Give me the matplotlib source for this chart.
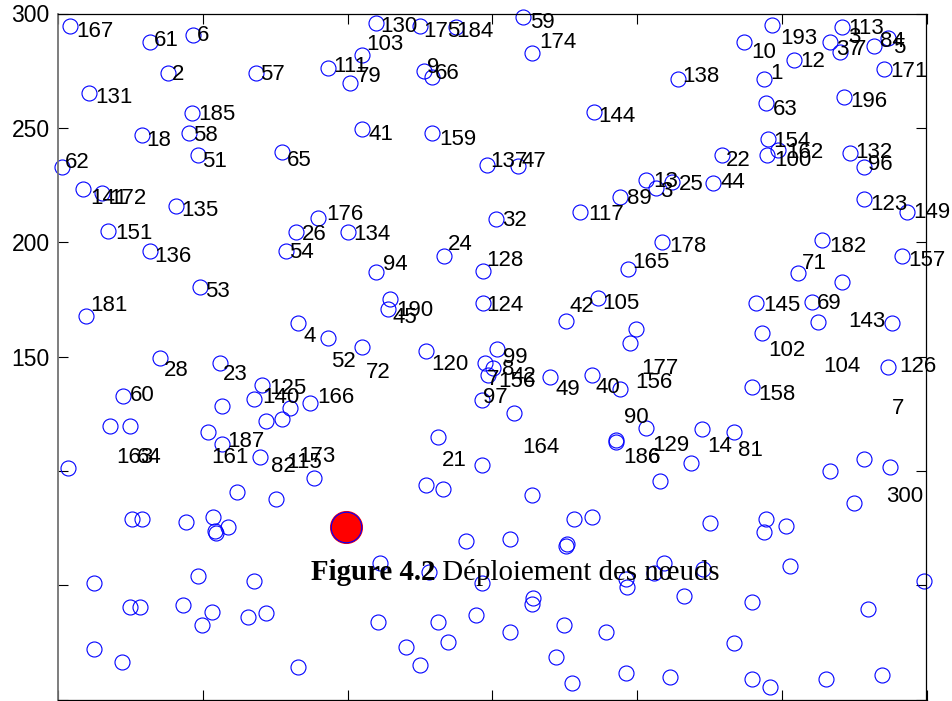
import matplotlib
matplotlib.use("Agg")
import matplotlib.pyplot as plt

# node positions (blue circles)
node_x = [4.1, 31.8, 46.7, 37.9, 10.8, 46.2, 28.9, 45.2, 48.3, 1.3, 8.7, 15.1, 40.8, 17.2, 31.8,
          49.0, 9.7, 35.2, 56.0, 22.6, 56.5, 18.0, 24.9, 51.7, 56.5, 3.4, 68.4, 93.2, 105.1, 100.9,
          109.8, 125.0, 137.5, 126.4, 129.1, 105.1, 129.1, 77.5, 89.9, 82.2, 100.1, 78.8, 109.8, 133.3,
          114.7, 113.9, 82.8, 93.4, 104.9, 127.1, 147.5, 70.4, 67.7, 80.1, 77.3, 71.8, 87.0, 69.8,
          131.2, 146.4, 88.4, 160.7, 163.6, 214.3, 185.1, 148.1, 159.0, 203.0, 206.4, 212.0, 226.3,
          194.1, 180.3, 151.3, 208.5, 196.8, 186.6, 175.5, 146.9, 146.9, 199.6, 197.6, 151.7, 150.1,
          148.6, 169.9, 184.5, 194.1, 146.3, 157.5, 203.1, 192.7, 192.9, 222.3, 218.5, 207.9, 246.7,
          236.9, 254.2, 243.9, 270.9, 266.6, 270.1, 281.9, 286.8, 285.4, 271.5, 244.4, 245.1, 248.8,
          244.8, 229.2, 273.6, 278.4, 278.4, 293.1, 264.0, 291.6, 255.7, 270.9, 241.1, 260.3, 262.6,
          288.2, 243.3, 286.8, 239.8, 233.5, 266.6, 278.4, 287.4, 61.9, 25.5, 28.9, 44.1, 53.6, 54.6,
          54.3, 58.6, 12.4, 48.3, 24.9, 28.3, 43.3, 53.1, 49.6, 65.8, 71.8, 12.4, 22.0, 67.7, 82.8,
          75.2, 127.1, 133.1, 140.9, 111.2, 128.2, 146.3, 110.4, 131.2, 144.3, 134.6, 120.1, 125.0,
          163.6, 178.3, 184.5, 225.2, 156.1, 175.9, 175.5, 209.4, 206.0, 222.9, 196.1, 196.4, 216.3,
          164.2, 163.8, 156.1, 174.9, 189.3, 172.0, 177.4, 196.2, 211.4, 233.5, 239.8, 239.8, 245.9,
          244.6, 243.9, 251.5, 252.8, 265.3, 275.0, 279.9, 284.7, 299.1]
node_y = [294.7, 287.7, 290.6, 273.8, 265.1, 256.3, 246.9, 247.9, 238.1, 232.7, 223.1, 221.4, 215.9,
          204.9, 196.1, 180.3, 167.8, 149.5, 147.0, 132.9, 128.5, 119.7, 119.7, 117.1, 111.6, 101.2,
          273.8, 276.3, 281.8, 269.5, 295.7, 294.7, 294.0, 275.0, 272.3, 249.3, 247.6, 239.6, 210.4,
          204.3, 204.3, 196.1, 187.1, 194.1, 175.1, 170.6, 164.5, 158.2, 154.0, 152.4, 147.0, 137.5,
          131.4, 127.3, 122.5, 121.8, 129.5, 105.9, 114.7, 102.4, 96.9, 298.3, 282.6, 271.2, 257.0,
          233.7, 233.4, 227.2, 223.5, 226.4, 225.7, 219.9, 213.3, 210.0, 200.1, 188.3, 175.7, 165.5,
          187.4, 173.3, 161.9, 155.8, 153.1, 144.8, 141.9, 140.9, 141.9, 135.7, 131.0, 125.2, 118.9,
          113.5, 112.7, 118.2, 103.3, 95.5, 295.0, 287.7, 279.7, 271.3, 294.0, 287.7, 283.3, 285.8,
          289.1, 275.6, 263.3, 260.7, 245.0, 240.3, 238.1, 238.1, 238.9, 232.7, 218.7, 213.3, 200.9,
          194.1, 186.4, 182.7, 173.3, 174.0, 165.2, 164.5, 160.1, 145.3, 136.5, 117.1, 100.1, 105.2,
          101.7, 90.9, 78.8, 78.8, 77.8, 79.7, 72.9, 73.5, 75.3, 50.8, 54.1, 40.3, 40.3, 41.3, 38.4,
          32.6, 36.1, 37.7, 22.0, 16.5, 51.8, 14.1, 87.5, 93.8, 92.1, 69.3, 59.6, 55.9, 50.8, 34.0,
          34.0, 37.0, 25.3, 22.8, 15.1, 89.4, 78.8, 79.7, 77.1, 70.1, 68.0, 67.1, 59.6, 55.2, 56.9,
          52.6, 49.1, 45.4, 44.3, 41.8, 29.6, 32.6, 29.6, 18.5, 7.1, 11.5, 9.7, 24.6, 42.8, 8.8, 5.3,
          78.8, 73.4, 76.0, 58.5, 8.8, 85.8, 39.4, 10.7, 51.8]

# sink (red dot)
sink_x = [99.5]
sink_y = [75.3]

# node id labels
label_txt = ["167", "61", "6", "2", "131", "185", "18", "58", "51", "62", "141", "172", "135", "151",
             "136", "53", "181", "28", "23", "60", "187", "163", "64", "161", "130", "175", "184",
             "103", "111", "79", "57", "9", "66", "41", "159", "65", "176", "26", "134", "54", "94",
             "24", "190", "45", "4", "52", "72", "120", "125", "140", "166", "82", "115", "173", "21",
             "59", "174", "138", "144", "137", "47", "13", "25", "3", "89", "117", "32", "178", "165",
             "128", "124", "105", "42", "99", "8", "42", "7", "156", "49", "40", "177", "156", "97",
             "90", "164", "186", "6", "129", "14", "81", "193", "10", "12", "1", "113", "3", "37",
             "7", "84", "5", "171", "196", "63", "154", "100", "162", "22", "44", "132", "96", "123",
             "149", "182", "157", "71", "145", "69", "143", "102", "104", "126", "158", "7", "300"]
label_x = [6.2, 33.2, 47.9, 39.3, 12.8, 48.5, 30.6, 46.7, 49.6, 2.4, 11.1, 17.8, 42.7, 19.7, 33.2,
           50.8, 11.3, 36.7, 56.9, 24.9, 58.6, 20.0, 27.3, 53.1, 111.2, 126.0, 137.7, 106.6, 95.1,
           103.2, 69.8, 127.4, 130.2, 107.2, 131.7, 79.0, 92.6, 84.2, 102.0, 79.9, 112.2, 134.5,
           117.0, 115.6, 84.7, 94.2, 106.4, 128.8, 73.0, 70.4, 89.4, 73.5, 79.0, 83.0, 132.5, 163.0,
           166.2, 215.8, 186.6, 149.2, 160.2, 205.6, 214.3, 207.9, 196.4, 183.0, 153.3, 211.1, 198.5,
           148.1, 148.1, 188.1, 176.6, 153.8, 153.2, 156.7, 148.1, 152.0, 172.0, 185.7, 201.3, 199.3,
           146.9, 195.5, 160.2, 195.3, 203.8, 205.1, 224.1, 235.0, 249.4, 239.6, 256.3, 245.9, 273.0,
           273.0, 268.7, 274.9, 283.9, 288.5, 287.4, 273.6, 246.9, 246.9, 247.4, 251.7, 230.7, 228.7,
           275.3, 279.9, 280.5, 295.4, 266.4, 293.7, 256.9, 243.6, 262.1, 273.0, 245.3, 264.3, 290.6,
           241.9, 288.0, 285.9]
label_y = [289.6, 285.8, 288.1, 270.9, 260.7, 253.4, 242.2, 244.4, 233.0, 232.3, 216.7, 216.7, 211.4,
           201.4, 191.2, 175.9, 169.9, 141.6, 139.7, 130.7, 110.6, 103.3, 103.3, 103.3, 291.8, 289.8,
           289.8, 284.0, 274.5, 270.2, 270.9, 273.8, 271.3, 244.7, 242.5, 233.4, 209.7, 200.9, 200.9,
           192.9, 187.8, 196.6, 167.8, 164.5, 156.2, 145.3, 140.7, 144.1, 133.5, 129.5, 129.5, 99.6,
           101.1, 104.0, 102.2, 293.5, 284.8, 270.2, 252.7, 233.0, 233.0, 224.2, 222.8, 219.7, 216.7,
           209.7, 207.1, 195.8, 188.6, 189.7, 169.9, 170.8, 169.3, 147.0, 141.9, 138.8, 137.5, 136.8,
           133.2, 134.2, 142.2, 136.1, 129.8, 120.8, 107.7, 103.3, 103.3, 108.7, 108.4, 106.6, 286.7,
           280.4, 276.7, 271.2, 291.0, 287.0, 281.8, 281.8, 285.5, 282.8, 272.1, 259.0, 255.6, 241.7,
           233.4, 236.7, 233.4, 223.5, 236.7, 231.6, 214.1, 210.4, 195.8, 189.7, 188.3, 169.9, 170.8,
           163.0, 150.3, 143.1, 143.1, 131.0, 124.8, 86.2]

fig = plt.figure(figsize=(9.53, 7.01), dpi=100)
ax = fig.add_axes([58 / 953, 1.5 / 701, 868.5 / 953, 686 / 701])

ax.plot(node_x, node_y, 'o', mfc='none', mec='#0000ff', ms=10.8, mew=0.8, clip_on=False)
ax.plot(sink_x, sink_y, 'o', mfc='#ff0000', mec='#ff0000', ms=23, mew=0.8)
ax.plot(sink_x, sink_y, 'o', mfc='none', mec='#0000ff', ms=22, mew=0.8)

for t, x, y in zip(label_txt, label_x, label_y):
    ax.text(x, y, t, ha='left', va='baseline', fontsize=16, family='Liberation Sans')

ax.set_xlim(0, 300)
ax.set_ylim(0, 300)
ax.set_xticks(range(0, 301, 50))
ax.set_xticklabels([])
ax.set_yticks(range(0, 301, 50))
ax.set_yticklabels(['', '', '', '150', '200', '250', '300'])
ax.tick_params(direction='in', length=7, width=0.8, top=True, right=True,
               labelsize=16.5, pad=6)
for lbl in ax.get_yticklabels():
    lbl.set_family('Liberation Sans')
for s in ax.spines.values():
    s.set_linewidth(0.9)
ax.spines['left'].set_color('0.45')
ax.spines['left'].set_linewidth(1.3)

# caption overlapping the plot
cap = fig.text(310.7 / 953, 1 - 580 / 701, 'Figure 4.2', fontsize=20.8, fontweight='bold',
               family='Liberation Serif', ha='left', va='baseline')
fig.canvas.draw()
ax.annotate(' Déploiement des nœuds', xy=(1, 0), xycoords=cap, ha='left', va='bottom',
            fontsize=20.8, family='Liberation Serif', annotation_clip=False)

fig.savefig('out.png', dpi=100)
